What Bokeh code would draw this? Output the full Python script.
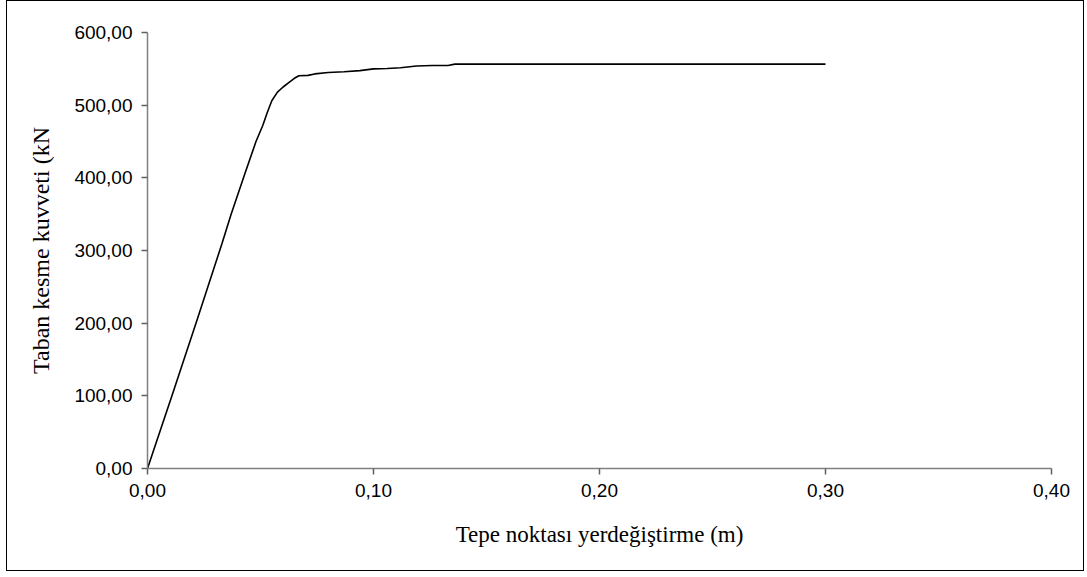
from bokeh.plotting import figure
from bokeh.models import Range1d, FixedTicker, ColumnDataSource
from bokeh.embed import file_html
from bokeh.resources import INLINE

# Data (top displacement in m, base shear in kN)
displacement = [0.0, 0.011, 0.022, 0.033, 0.037, 0.043, 0.048, 0.051, 0.053, 0.055,
                0.0575, 0.060, 0.0625, 0.065, 0.067, 0.071, 0.074, 0.080, 0.087, 0.094,
                0.100, 0.106, 0.112, 0.119, 0.126, 0.133, 0.136, 0.151, 0.166, 0.181,
                0.196, 0.211, 0.225, 0.240, 0.255, 0.270, 0.285, 0.300]
base_shear = [0.0, 102.0, 205.0, 310.0, 350.0, 405.0, 450.0, 472.0, 490.0, 506.0,
              518.0, 525.0, 531.0, 537.0, 540.5, 541.0, 543.0, 545.0, 546.0, 547.5,
              550.0, 550.5, 551.5, 554.0, 554.5, 554.5, 556.5, 556.5, 556.5, 556.5,
              556.5, 556.5, 556.5, 556.5, 556.5, 556.5, 556.5, 556.5]

x_ticks = [0.0, 0.1, 0.2, 0.3, 0.4]
x_tick_labels = ["0,00", "0,10", "0,20", "0,30", "0,40"]
y_ticks = [0, 100, 200, 300, 400, 500, 600]
y_tick_labels = ["0,00", "100,00", "200,00", "300,00", "400,00", "500,00", "600,00"]

x_title = "Tepe noktası yerdeğiştirme (m)"
y_title = "Taban kesme kuvveti (kN"

W, H = 1078, 571
p = figure(width=W, height=H, output_backend="svg", toolbar_location=None,
           x_range=Range1d(0, 0.4), y_range=Range1d(0, 600),
           min_border_left=140, min_border_right=34, min_border_top=31, min_border_bottom=104,
           styles={"border": "1.5px solid #000000", "margin-left": "6px", "margin-top": "0px"})
p.outline_line_color = None
p.xgrid.visible = False
p.ygrid.visible = False
p.background_fill_color = "white"
p.border_fill_color = "white"

src = ColumnDataSource(data=dict(x=displacement, y=base_shear))
p.line("x", "y", source=src, line_color="black", line_width=1.6)

for ax, ticks, labels in ((p.xaxis[0], x_ticks, x_tick_labels), (p.yaxis[0], y_ticks, y_tick_labels)):
    ax.ticker = FixedTicker(ticks=ticks)
    ax.major_label_overrides = {t: l for t, l in zip(ticks, labels)}
    ax.axis_line_color = "#808080"
    ax.axis_line_width = 1.5
    ax.major_tick_line_color = "#606060"
    ax.major_tick_line_width = 1.5
    ax.major_tick_out = 6
    ax.major_tick_in = 0
    ax.minor_tick_line_color = None
    ax.major_label_text_font = "Liberation Sans"
    ax.major_label_text_font_size = "19px"
    ax.major_label_text_color = "black"
    ax.axis_label_text_font = "Liberation Serif"
    ax.axis_label_text_font_style = "normal"
    ax.axis_label_text_color = "black"

p.xaxis.axis_label = x_title
p.yaxis.axis_label = y_title
p.xaxis.axis_label_text_font_size = "23px"
p.yaxis.axis_label_text_font_size = "24px"
p.xaxis.major_label_standoff = 9
p.yaxis.major_label_standoff = 9
p.xaxis.axis_label_standoff = 22
p.yaxis.axis_label_standoff = 17

open("out.html", "w").write(file_html(p, INLINE))
